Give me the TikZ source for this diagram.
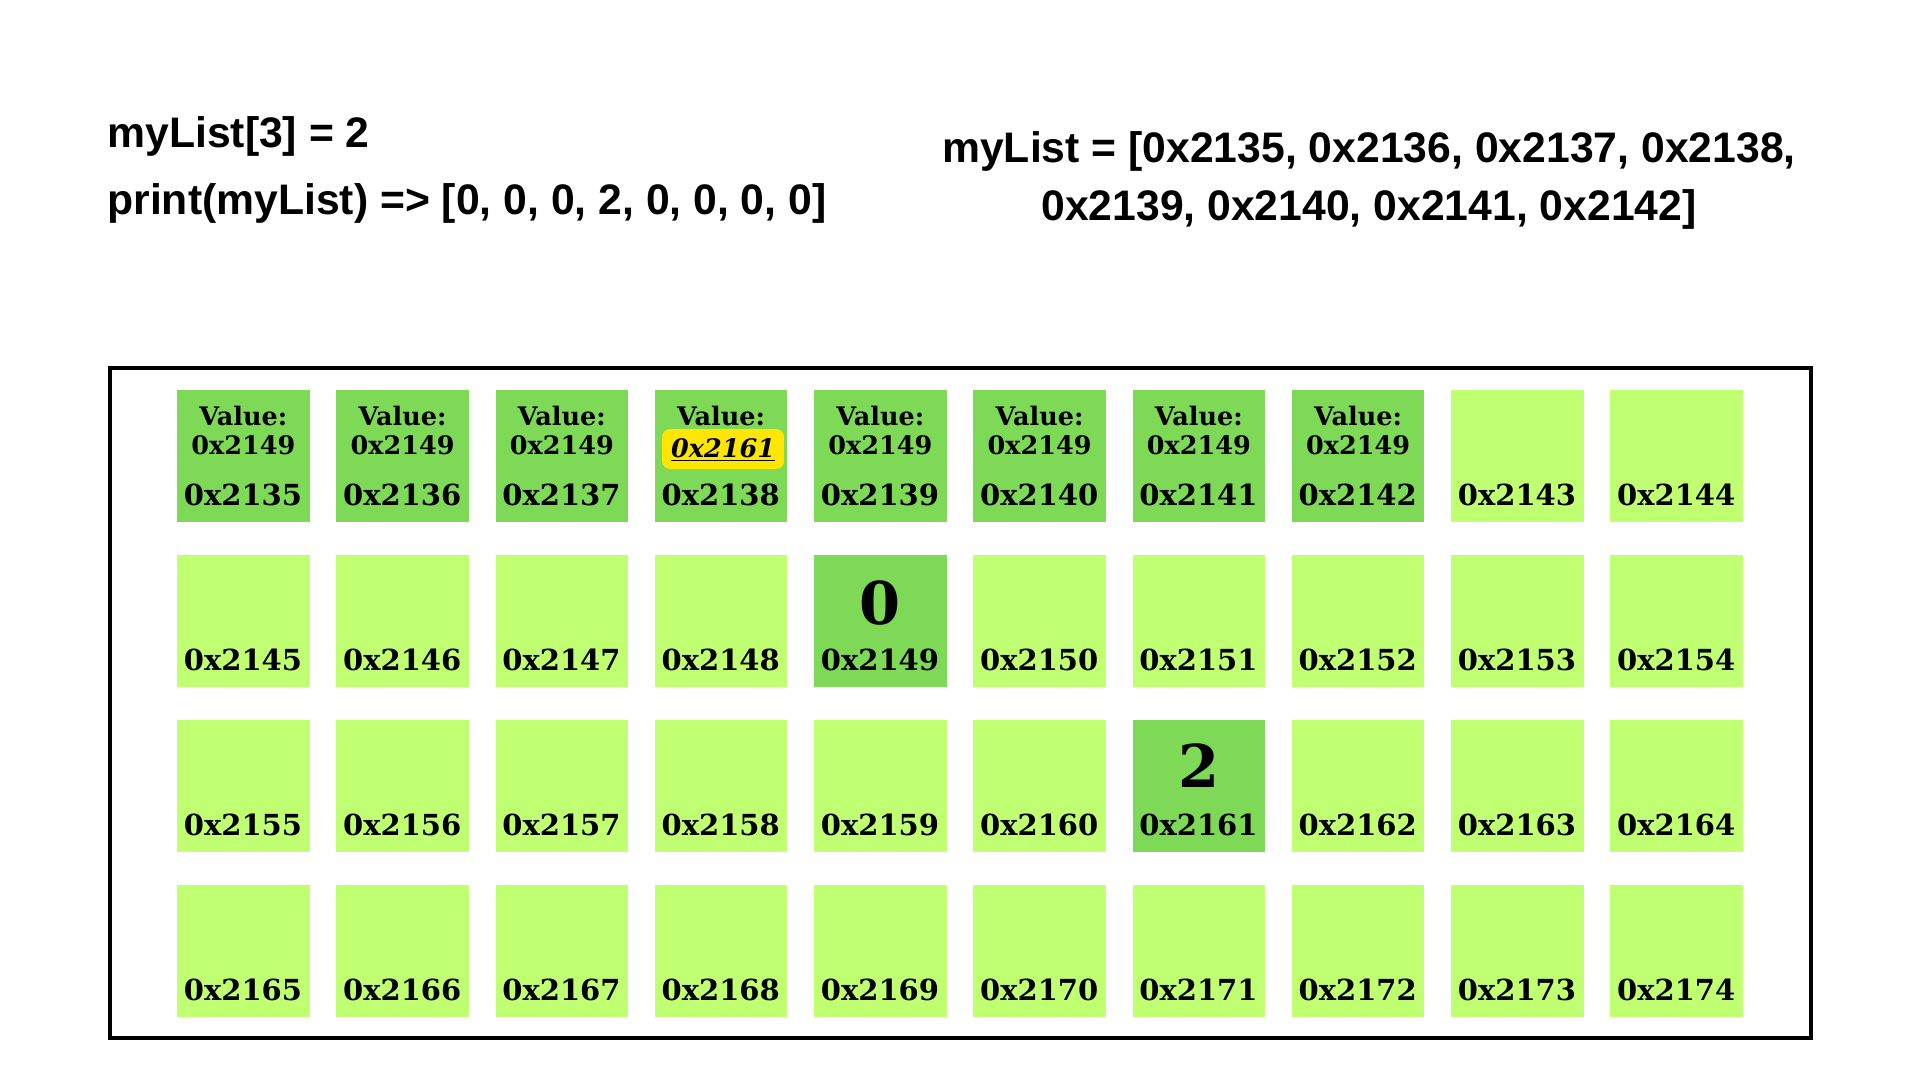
\documentclass[tikz,border=0pt]{standalone}
\usepackage{fontspec}
\setmainfont{DejaVu Serif}
\newfontfamily\lsans{Liberation Sans}
\usetikzlibrary{calc}
\definecolor{dkg}{HTML}{7ED957}
\definecolor{ltg}{HTML}{C1FF72}
\definecolor{hl}{HTML}{FFE600}
\begin{document}
\begin{tikzpicture}[x=0.5pt,y=-0.5pt,
  cellbox/.style={rectangle, minimum width=66.25pt, minimum height=66pt, inner sep=0pt, anchor=north west},
  addr/.style={font=\bfseries\fontsize{14.5}{14.5}\selectfont, anchor=base, inner sep=0pt},
  vallbl/.style={font=\bfseries\fontsize{12.75}{12.75}\selectfont, anchor=base, inner sep=0pt},
  bignum/.style={font=\bfseries\fontsize{29.5}{29.5}\selectfont, anchor=base, inner sep=0pt},
  code/.style={font=\lsans\bfseries\fontsize{21.35}{21.35}\selectfont, inner sep=0pt}]
\useasboundingbox[fill=white] (0,0) rectangle (1920,1080);
% code text
\node[code, anchor=base west] (l1) at (107,148) {myList[3] = 2};
\node[code, anchor=base west] (l2) at (107,215) {print(myList) => [0, 0, 0, 2, 0, 0, 0, 0]};
\node[code, anchor=base] (r1) at (1369,162.5) {myList = [0x2135, 0x2136, 0x2137, 0x2138,};
\node[code, anchor=base] (r2) at (1369,220.5) {0x2139, 0x2140, 0x2141, 0x2142]};
% frame
\node[draw, line width=2pt, rectangle, inner sep=0pt, minimum width=850.5pt, minimum height=335pt, anchor=north west] (frame) at (108,366) {};
% cells
\foreach \r in {0,...,3}{
  \foreach \c in {0,...,9}{
    \pgfmathtruncatemacro\n{2135+10*\r+\c}
    \pgfmathsetmacro\xx{176.7+159.25*\c}
    \pgfmathsetmacro\yy{390+165*\r}
    \pgfmathtruncatemacro\dk{(((\r==0)&&(\c<8))||(\n==2149)||(\n==2161)) ? 1 : 0}
    \ifnum\dk=1 \def\cc{dkg}\else\def\cc{ltg}\fi
    \node[cellbox, fill=\cc] (c\n) at (\xx,\yy) {};
    \node[addr] (a\n) at (\xx+66.25,\yy+115) {0x\n};
  }
}
% value labels in the list cells
\foreach \n in {2135,2136,2137,2138,2139,2140,2141,2142}{
  \node[vallbl] (v\n) at ($(c\n.north)+(0,35)$) {Value:};
}
\foreach \n in {2135,2136,2137,2139,2140,2141,2142}{
  \node[vallbl] (p\n) at ($(c\n.north)+(0,64)$) {0x2149};
}
\node[fill=hl, rounded corners=4pt, minimum width=61pt, minimum height=20pt, inner sep=0pt] (hlbox) at ($(c2138.north)+(2,59)$) {};
\node[vallbl, font=\bfseries\itshape\fontsize{12.75}{12.75}\selectfont] (p2138) at ($(c2138.north)+(2,67)$) {\underline{0x2161}};
% stored values
\node[bignum] (n2149) at ($(c2149.north)+(0,69)$) {0};
\node[bignum] (n2161) at ($(c2161.north)+(0,67)$) {2};
\end{tikzpicture}
\end{document}
